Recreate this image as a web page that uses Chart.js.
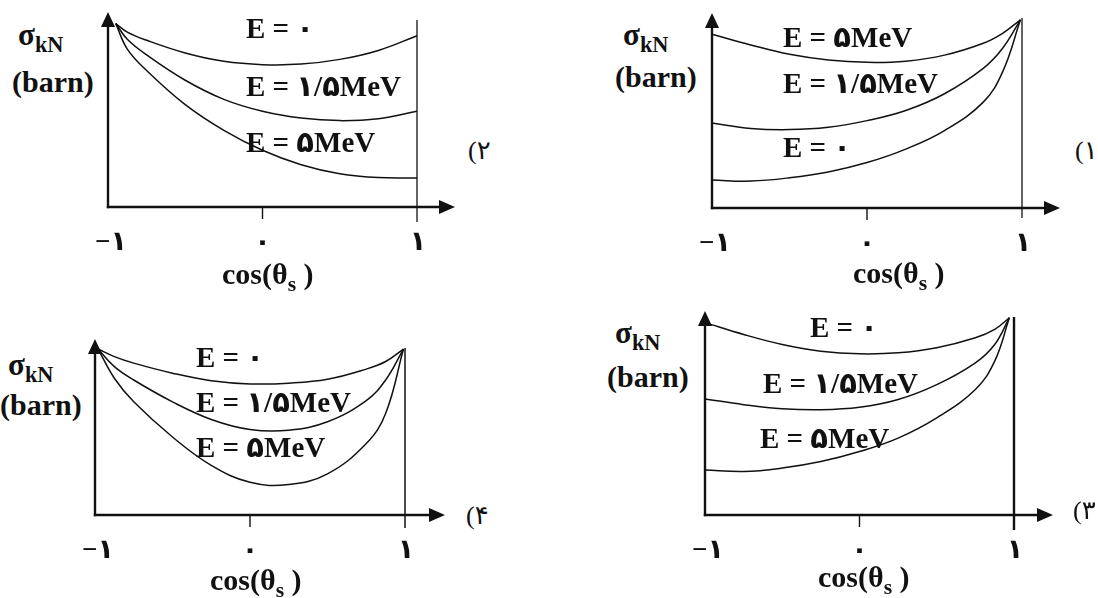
<!DOCTYPE html>
<html><head><meta charset="utf-8">
<script src="https://cdn.jsdelivr.net/npm/chart.js@4.4.1/dist/chart.umd.min.js"></script>
<style>
html,body{margin:0;padding:0;background:#fff;}
body{width:1098px;height:598px;overflow:hidden;position:relative;}
canvas{position:absolute;}
.t{position:absolute;font-family:'Liberation Serif','DejaVu Sans',serif;font-weight:bold;color:#111;white-space:nowrap;line-height:1;direction:ltr;unicode-bidi:bidi-override;}
.n{font-weight:normal;}
.t sub{font-size:0.72em;vertical-align:-0.32em;line-height:0;}
</style></head><body>
<script>
// ---------- data (y in arbitrary units 0..10) ----------
const tickVals   = [-1, 0, 1];
const tickLabels = ['−۱', '۰', '۱'];
const seriesNames = ['E = ۰', 'E = ۱/۵MeV', 'E = ۵MeV'];

// panel (۱) top-right
const xP1   = [-1, -0.75, -0.5, -0.25, 0, 0.25, 0.5, 0.75, 0.875, 0.99];
const e0P1  = [1.43, 1.38, 1.55, 1.85, 2.33, 3.02, 3.97, 5.43, 6.98, 9.65];
const e15P1 = [4.36, 4.08, 4.02, 4.14, 4.48, 5.00, 5.86, 7.16, 8.19, 9.65];
const e5P1  = [8.91, 8.36, 7.88, 7.59, 7.47, 7.53, 7.84, 8.45, 8.96, 9.65];

// panel (۲) top-left
const xP2   = [-0.95, -0.875, -0.75, -0.5, -0.25, 0, 0.25, 0.5, 0.75, 1];
const e0P2  = [9.41, 8.97, 8.55, 7.90, 7.47, 7.30, 7.33, 7.57, 8.03, 8.78];
const e15P2 = [9.41, 8.60, 7.80, 6.50, 5.52, 4.91, 4.56, 4.43, 4.53, 4.91];
const e5P2  = [9.41, 8.10, 7.00, 5.25, 3.93, 2.91, 2.17, 1.71, 1.51, 1.49];

// panel (۳) bottom-right
const xP3   = [-1, -0.75, -0.5, -0.25, 0, 0.25, 0.5, 0.75, 0.875, 0.97];
const e0P3  = [9.43, 8.85, 8.36, 8.03, 7.90, 7.95, 8.20, 8.69, 9.10, 9.67];
const e15P3 = [5.69, 5.41, 5.21, 5.16, 5.28, 5.66, 6.39, 7.46, 8.36, 9.67];
const e5P3  = [2.21, 2.13, 2.30, 2.62, 3.11, 3.77, 4.76, 6.15, 7.54, 9.67];

// panel (۴) bottom-left
const xP4   = [-0.98, -0.875, -0.75, -0.5, -0.25, 0, 0.25, 0.5, 0.75, 0.875, 0.99];
const e0P4  = [9.43, 9.00, 8.63, 8.06, 7.63, 7.45, 7.49, 7.71, 8.29, 8.72, 9.43];
const e15P4 = [9.43, 8.43, 7.67, 6.43, 5.43, 4.86, 4.82, 5.30, 6.50, 7.67, 9.43];
const e5P4  = [9.43, 7.77, 6.43, 4.43, 2.82, 1.86, 1.73, 2.34, 4.06, 5.77, 9.43];

// ---------- layout (page pixels) ----------
const panels = [
  {num:'(۱', xs:xP1, ys:[e0P1,e15P1,e5P1], axisX:712, axisY:208, tipX:1060, tipY:13, rightX:1022, rightTop:18, rightBottom:218, rightW:1.3,
   labels:[[2,783,47],[1,783,93],[0,783,157]], sigma:[623,45], barn:[615,87], cos:[853,283], numPos:[1075,160]},
  {num:'(۲', xs:xP2, ys:[e0P2,e15P2,e5P2], axisX:108, axisY:207, tipX:455, tipY:12, rightX:417, rightTop:20, rightBottom:222, rightW:1.3,
   labels:[[0,246,38],[1,246,96],[2,246,152]], sigma:[18,45], barn:[12,92], cos:[222,284], numPos:[468,160]},
  {num:'(۳', xs:xP3, ys:[e0P3,e15P3,e5P3], axisX:705, axisY:515, tipX:1053, tipY:311, rightX:1014, rightTop:317, rightBottom:530, rightW:2.4,
   labels:[[0,810,337],[1,763,393],[2,760,448]], sigma:[615,343], barn:[607,387], cos:[818,587], numPos:[1073,520]},
  {num:'(۴', xs:xP4, ys:[e0P4,e15P4,e5P4], axisX:95, axisY:515, tipX:445, tipY:339, rightX:405, rightTop:348, rightBottom:528, rightW:1.5,
   labels:[[0,196,367],[1,196,412],[2,196,457]], sigma:[8,375], barn:[0,415], cos:[210,590], numPos:[466,525]}
];

const PADL=12, PADR=12, PADT=6, PADB=20;

function addText(html, left, baseline, size, cls, center){
  const d = document.createElement('div');
  d.className = 't' + (cls ? ' ' + cls : '');
  d.style.fontSize = size + 'px';
  d.innerHTML = html;
  d.style.top = (baseline - 0.84*size) + 'px';
  d.style.left = left + 'px';
  if (center) d.style.transform = 'translateX(-50%)';
  document.body.appendChild(d);
  return d;
}

const axesPlugin = {
  id: 'axesArrows',
  afterDatasetsDraw(chart) {
    const {ctx, chartArea: a, scales: {x}} = chart;
    const p = chart.options.plugins.axesArrows;
    ctx.save();
    ctx.strokeStyle = '#111'; ctx.fillStyle = '#111';
    ctx.lineWidth = 2.4;
    ctx.beginPath(); ctx.moveTo(a.left, a.bottom + 1.2); ctx.lineTo(a.left, a.top + 10); ctx.stroke();
    ctx.beginPath(); ctx.moveTo(a.left, a.top); ctx.lineTo(a.left - 7, a.top + 15); ctx.lineTo(a.left + 7, a.top + 15); ctx.closePath(); ctx.fill();
    ctx.beginPath(); ctx.moveTo(a.left - 1.2, a.bottom); ctx.lineTo(a.right - 10, a.bottom); ctx.stroke();
    ctx.beginPath(); ctx.moveTo(a.right, a.bottom); ctx.lineTo(a.right - 16, a.bottom - 7); ctx.lineTo(a.right - 16, a.bottom + 7); ctx.closePath(); ctx.fill();
    const rx = x.getPixelForValue(1);
    ctx.lineWidth = p.rightW;
    ctx.beginPath(); ctx.moveTo(rx, p.rightTop); ctx.lineTo(rx, p.rightBottom); ctx.stroke();
    const zx = x.getPixelForValue(0);
    ctx.lineWidth = 1.4;
    ctx.beginPath(); ctx.moveTo(zx, a.bottom); ctx.lineTo(zx, a.bottom + 12); ctx.stroke();
    ctx.restore();
  }
};

panels.forEach((p) => {
  const cv = document.createElement('canvas');
  const cLeft = p.axisX - PADL, cTop = p.tipY - PADT;
  const w = p.tipX - p.axisX + PADL + PADR;
  const h = p.axisY - p.tipY + PADT + PADB;
  cv.width = w; cv.height = h;
  cv.style.left = cLeft + 'px'; cv.style.top = cTop + 'px';
  cv.style.width = w + 'px'; cv.style.height = h + 'px';
  document.body.appendChild(cv);
  const xmax = -1 + 2 * (p.tipX - p.axisX) / (p.rightX - p.axisX);
  const chart = new Chart(cv.getContext('2d'), {
    type: 'line',
    data: {
      datasets: p.ys.map((ys, i) => ({
        label: seriesNames[i],
        data: p.xs.map((xv, j) => ({x: xv, y: ys[j]})),
        borderColor: '#111', borderWidth: 1.5, pointRadius: 0, fill: false,
        tension: 0.4, clip: false
      }))
    },
    options: {
      responsive: false, animation: false, events: [], devicePixelRatio: 1,
      layout: {padding: {left: PADL, right: PADR, top: PADT, bottom: PADB}},
      plugins: {legend: {display: false}, tooltip: {enabled: false},
        axesArrows: {rightW: p.rightW, rightTop: p.rightTop - cTop, rightBottom: p.rightBottom - cTop}},
      scales: {
        x: {type: 'linear', min: -1, max: xmax, display: false},
        y: {type: 'linear', min: 0, max: 10, display: false}
      }
    },
    plugins: [axesPlugin]
  });
  tickVals.forEach((v, i) => {
    const px = cLeft + chart.scales.x.getPixelForValue(v) + (v === -1 ? 3 : (v === 1 ? 1 : 0));
    addText(tickLabels[i], px, p.axisY + 44, 27, '', true);
  });
  p.labels.forEach(([si, l, b]) => addText(seriesNames[si], l, b, 29));
  addText('σ<sub>kN</sub>', p.sigma[0], p.sigma[1], 31);
  addText('(barn)', p.barn[0], p.barn[1], 30);
  addText('cos(θ<sub>s</sub> )', p.cos[0], p.cos[1], 30);
  addText(p.num, p.numPos[0], p.numPos[1], 26, 'n');
});
</script>
</body></html>
